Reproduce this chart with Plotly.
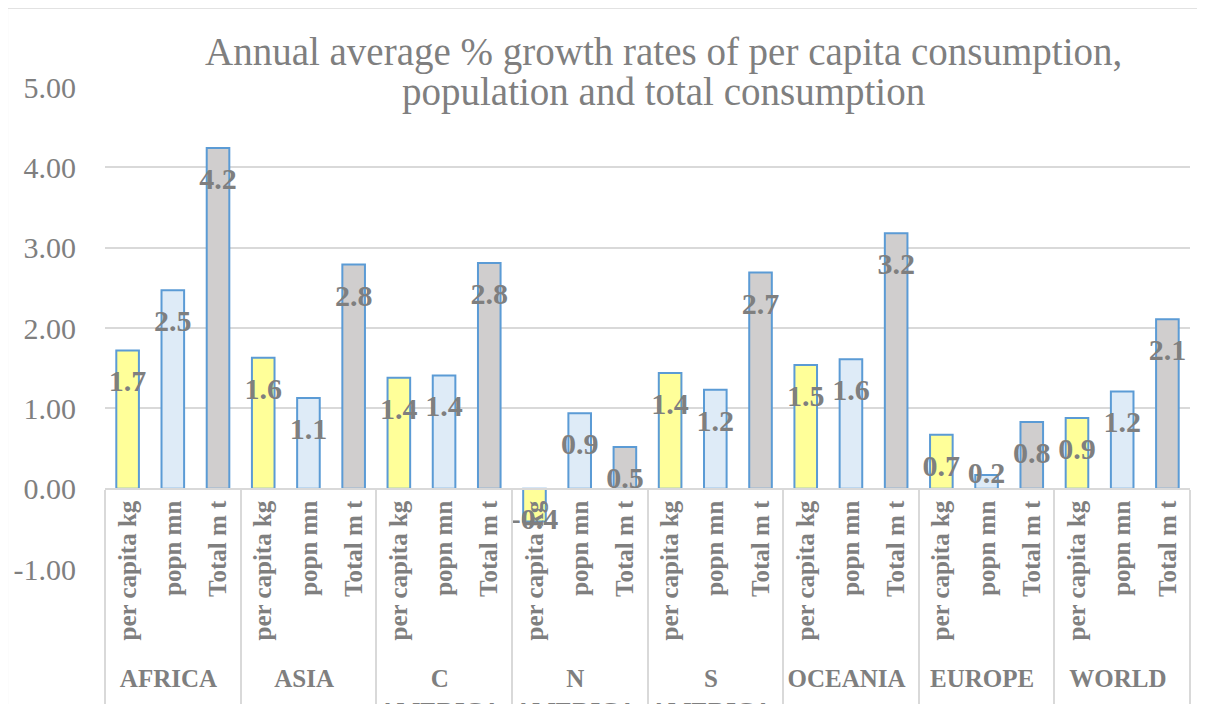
import plotly.graph_objects as go

regions = ["AFRICA", "ASIA", "C<br>AMERICA", "N<br>AMERICA", "S<br>AMERICA",
           "OCEANIA", "EUROPE", "WORLD"]
measures = ["per capita kg", "popn mn", "Total m t"]
per_capita = [1.72, 1.63, 1.38, -0.41, 1.44, 1.54, 0.67, 0.88]
popn = [2.47, 1.13, 1.41, 0.94, 1.23, 1.61, 0.17, 1.21]
total = [4.24, 2.79, 2.81, 0.52, 2.69, 3.18, 0.83, 2.11]
measure_colors = ["#FFFF99", "#DEEBF7", "#D0CECE"]
y_ticks = [-1, 0, 1, 2, 3, 4, 5]
y_ticktext = ["-1.00", "0.00", "1.00", "2.00", "3.00", "4.00", "5.00"]

GREY = "#7f7f7f"
GRID = "#d9d9d9"
SERIF = "Liberation Serif"

# flatten into region x measure order for the two-level category axis
outer, inner, values, colors = [], [], [], []
for i, region in enumerate(regions):
    for j, series in enumerate([per_capita, popn, total]):
        outer.append(region)
        inner.append(measures[j])
        values.append(series[i])
        colors.append(measure_colors[j])

fig = go.Figure()
fig.add_trace(
    go.Bar(
        x=[outer, inner],
        y=values,
        marker=dict(color=colors, line=dict(color="#5B9BD5", width=2)),
        width=0.5,
        hoverinfo="y",
    )
)
# data labels sit just inside the top of each bar (Excel "inside end")
fig.add_trace(
    go.Scatter(
        x=[outer, inner],
        y=values,
        mode="markers+text",
        text=[f"{v:.1f}" for v in values],
        textposition=["bottom center" if v >= 0.3 else "middle center" for v in values],
        textfont=dict(family=SERIF, size=30, color=GREY, weight="bold"),
        marker=dict(size=28, opacity=0),
        hoverinfo="skip",
        cliponaxis=False,
    )
)

# page body has an 8px margin, so the margins below are shifted by 8px
fig.update_layout(
    width=1205,
    height=704,
    showlegend=False,
    barmode="overlay",
    margin=dict(l=97, r=23, t=79, b=143),
    plot_bgcolor="white",
    paper_bgcolor="white",
    annotations=[
        dict(text="Annual average % growth rates of per capita consumption,",
             xref="paper", yref="paper", x=0.515, y=1.0726,
             xanchor="center", yanchor="middle", showarrow=False,
             font=dict(family=SERIF, size=39, color=GREY)),
        dict(text="population and total consumption",
             xref="paper", yref="paper", x=0.515, y=0.9896,
             xanchor="center", yanchor="middle", showarrow=False,
             font=dict(family=SERIF, size=39, color=GREY)),
    ],
    shapes=[
        dict(type="rect", xref="paper", yref="paper",
             x0=-0.090, x1=1.009, y0=-0.30, y1=1.164,
             line=dict(color=GRID, width=1.5), layer="below"),
    ],
)
fig.update_yaxes(
    range=[-1, 5],
    tickvals=y_ticks,
    ticktext=y_ticktext,
    automargin=False,
    showgrid=True,
    gridcolor=GRID,
    gridwidth=2,
    zeroline=True,
    zerolinecolor=GRID,
    zerolinewidth=2,
    tickfont=dict(family=SERIF, size=30, color=GREY),
    ticklabelstandoff=28,
)
fig.update_xaxes(
    type="multicategory",
    range=[-0.5, len(values) - 0.5],
    automargin=False,
    anchor="free",
    position=1 / 6,
    tickangle=-90,
    tickfont=dict(family=SERIF, size=25, color=GREY, weight="bold"),
    ticklabelstandoff=1,
    showline=True,
    linecolor=GRID,
    linewidth=2,
    showdividers=True,
    dividercolor=GRID,
    dividerwidth=2,
    showgrid=False,
)

fig.write_html("out.html")
